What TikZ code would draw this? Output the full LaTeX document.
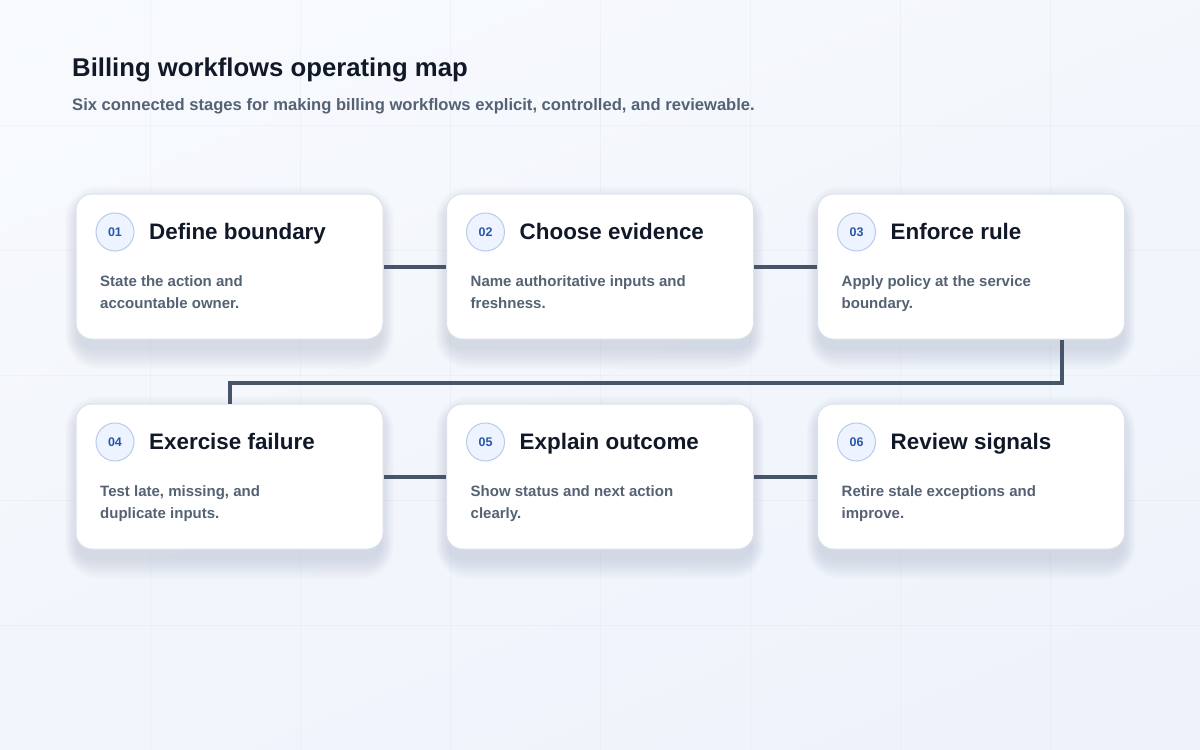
\documentclass[tikz,border=0pt]{standalone}
\usepackage{fontspec}
\setmainfont{Liberation Sans}
\usetikzlibrary{shadings}

\definecolor{ink}{HTML}{111827}
\definecolor{slate}{HTML}{556274}
\definecolor{wire}{HTML}{475569}
\definecolor{edge}{HTML}{DCE2EC}
\definecolor{badgefill}{HTML}{EEF4FF}
\definecolor{badgeedge}{HTML}{B9CBEA}
\definecolor{badgeink}{HTML}{2B56A8}
\definecolor{bgtop}{HTML}{F8FAFD}
\definecolor{bgbot}{HTML}{EDF2FB}
\definecolor{haze}{HTML}{5A6478}

\tikzset{
    card/.style={draw=edge, line width=1pt, fill=white, rounded corners=16pt,
        minimum width=307pt, minimum height=145pt, inner sep=0pt},
    glow/.style={fill=haze, fill opacity=0.014},
    badge/.style={circle, draw=badgeedge, line width=1pt, fill=badgefill, minimum size=38pt,
        inner sep=0pt, text=badgeink, font=\fontsize{12.5}{12.5}\selectfont\bfseries},
    head/.style={anchor=base west, inner sep=0pt, text=ink, font=\fontsize{22.4}{26}\selectfont\bfseries},
    body/.style={anchor=north west, inner sep=0pt, align=left, text=slate, font=\fontsize{15}{22}\selectfont\bfseries},
    wire/.style={draw=wire, line width=4pt},
    grid/.style={draw=wire, opacity=0.035, line width=1pt}
}

\begin{document}
\begin{tikzpicture}[x=1pt, y=-1pt]
            \useasboundingbox (0,0) rectangle (1200,750);
            \shade[upper left=bgtop, upper right=bgtop!60!bgbot, lower left=bgtop!40!bgbot, lower right=bgbot] (0,0) rectangle (1200,750);
            \foreach \gx in {150,300,...,1050}{
                \draw[grid] (\gx,0) -- (\gx,750);
            }
            \foreach \gy in {125,250,...,625}{
                \draw[grid] (0,\gy) -- (1200,\gy);
            }

            \node[anchor=base west, inner sep=0pt, text=ink, font=\fontsize{25.7}{30}\selectfont\bfseries] (title) at (72,76) {Billing workflows operating map};
            \node[anchor=base west, inner sep=0pt, text=slate, font=\fontsize{16.6}{20}\selectfont\bfseries] (subtitle) at (72,110) {Six connected stages for making billing workflows explicit, controlled, and reviewable.};

            \foreach \n/\x/\y/\head/\lineA/\lineB [count=\k] in {
                01/229.5/266.5/{Define boundary}/{State the action and}/{accountable owner.},
                02/600/266.5/{Choose evidence}/{Name authoritative inputs and}/{freshness.},
                03/971/266.5/{Enforce rule}/{Apply policy at the service}/{boundary.},
                04/229.5/476.5/{Exercise failure}/{Test late, missing, and}/{duplicate inputs.},
                05/600/476.5/{Explain outcome}/{Show status and next action}/{clearly.},
                06/971/476.5/{Review signals}/{Retire stale exceptions and}/{improve.}}{
                % soft shadow under the card
                \foreach \r in {-2,0,...,18}{
                    \fill[glow, rounded corners=16+\r] (\x-153.5-0.6*\r,\y-62.5-\r) rectangle (\x+153.5+0.6*\r,\y+84.5+\r);
                }
                \node[card] (s\k) at (\x,\y) {};
                \node[badge] (b\k) at (\x-114.5,\y-34.5) {\n};
                \node[head] (h\k) at (\x-80.5,\y-27) {\head};
                \node[body] (t\k) at (\x-129.5,\y+9) {\lineA\\\lineB};
            }

            \draw[wire] (s1.east) -- (s2.west);
            \draw[wire] (s2.east) -- (s3.west);
            \draw[wire] (s4.east) -- (s5.west);
            \draw[wire] (s5.east) -- (s6.west);
            \coordinate (turn) at (229.5,383);
            \draw[wire] ([xshift=91pt]s3.south) |- (turn) -- (s4.north);
        \end{tikzpicture}
\end{document}
